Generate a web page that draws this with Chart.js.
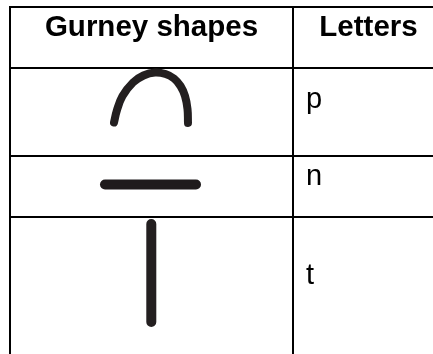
<!DOCTYPE html>
<html>
<head>
<meta charset="utf-8">
<script src="https://cdn.jsdelivr.net/npm/chart.js@4/dist/chart.umd.min.js"></script>
<style>
  html, body { margin: 0; padding: 0; background: #fff; }
  #wrap { position: relative; width: 433px; height: 354px; overflow: hidden; }
  #c { position: absolute; left: 0; top: 0; }
  .t { position: absolute; white-space: nowrap; font-family: "Liberation Sans", Arial, sans-serif; color: #000; line-height: 1; }
  .h { font-weight: bold; font-size: 29.5px; }
  .b { font-size: 29px; }
</style>
</head>
<body>
<div id="wrap"><canvas id="c" width="433" height="354"></canvas></div>
<script>
// ---- data ----
const headers = ["Gurney shapes", "Letters"];
const letters = ["p", "n", "t"];
const colLines = [10, 293];            // table column rules (x)
const rowLines = [7, 68, 156, 217];    // table row rules (y)
// shape for "p": arc
const arcX = [114, 117, 122.5, 133, 143.5, 155, 165.5, 174, 180.5, 185, 187.5, 188];
const arcY = [122.5, 110, 96, 82.5, 75.5, 72.5, 74, 78.5, 86, 96, 109, 123];
// shape for "n": horizontal stroke
const dashX = [105, 196];
const dashY = [184.5, 184.5];
// shape for "t": vertical stroke
const stemX = [151.3, 151.3];
const stemY = [224, 322];

const pts = (xs, ys) => xs.map((x, i) => ({ x: x, y: ys[i] }));
const ink = '#231f20';

new Chart(document.getElementById('c'), {
  type: 'scatter',
  data: {
    datasets: [
      { data: pts(arcX, arcY), showLine: true, borderColor: ink, borderWidth: 8, tension: 0.4, pointRadius: 0, borderCapStyle: 'round', borderJoinStyle: 'round' },
      { data: pts(dashX, dashY), showLine: true, borderColor: '#1f1b1c', borderWidth: 10, pointRadius: 0, borderCapStyle: 'round' },
      { data: pts(stemX, stemY), showLine: true, borderColor: ink, borderWidth: 10, pointRadius: 0, borderCapStyle: 'round' }
    ]
  },
  options: {
    responsive: false,
    animation: false,
    devicePixelRatio: 1,
    layout: { padding: { left: 9, top: 6, right: 0, bottom: 0 } },
    plugins: { legend: { display: false }, tooltip: { enabled: false } },
    events: [],
    scales: {
      x: {
        type: 'linear', min: 9, max: 433,
        afterBuildTicks: s => { s.ticks = colLines.map(v => ({ value: v })); },
        ticks: { display: false },
        grid: { color: '#000', lineWidth: 2, drawTicks: false, tickLength: 0 },
        border: { display: false }
      },
      y: {
        type: 'linear', min: 6, max: 354, reverse: true,
        afterBuildTicks: s => { s.ticks = rowLines.map(v => ({ value: v })); },
        ticks: { display: false },
        grid: { color: '#000', lineWidth: 2, drawTicks: false, tickLength: 0 },
        border: { display: false }
      }
    }
  }
});

// ---- text (real DOM text) ----
const wrap = document.getElementById('wrap');
function addText(str, cls, left, top, center) {
  const d = document.createElement('div');
  d.className = 't ' + cls;
  d.textContent = str;
  d.style.top = top + 'px';
  if (center) { d.style.left = (left - 200) + 'px'; d.style.width = '400px'; d.style.textAlign = 'center'; }
  else d.style.left = left + 'px';
  wrap.appendChild(d);
}
const headCenters = [151.5, 368.5];
headers.forEach((h, i) => addText(h, 'h', headCenters[i], 10.5, true));
const letterTops = [83.5, 160.5, 259.5];
letters.forEach((l, i) => addText(l, 'b', 306, letterTops[i], false));
</script>
</body>
</html>
